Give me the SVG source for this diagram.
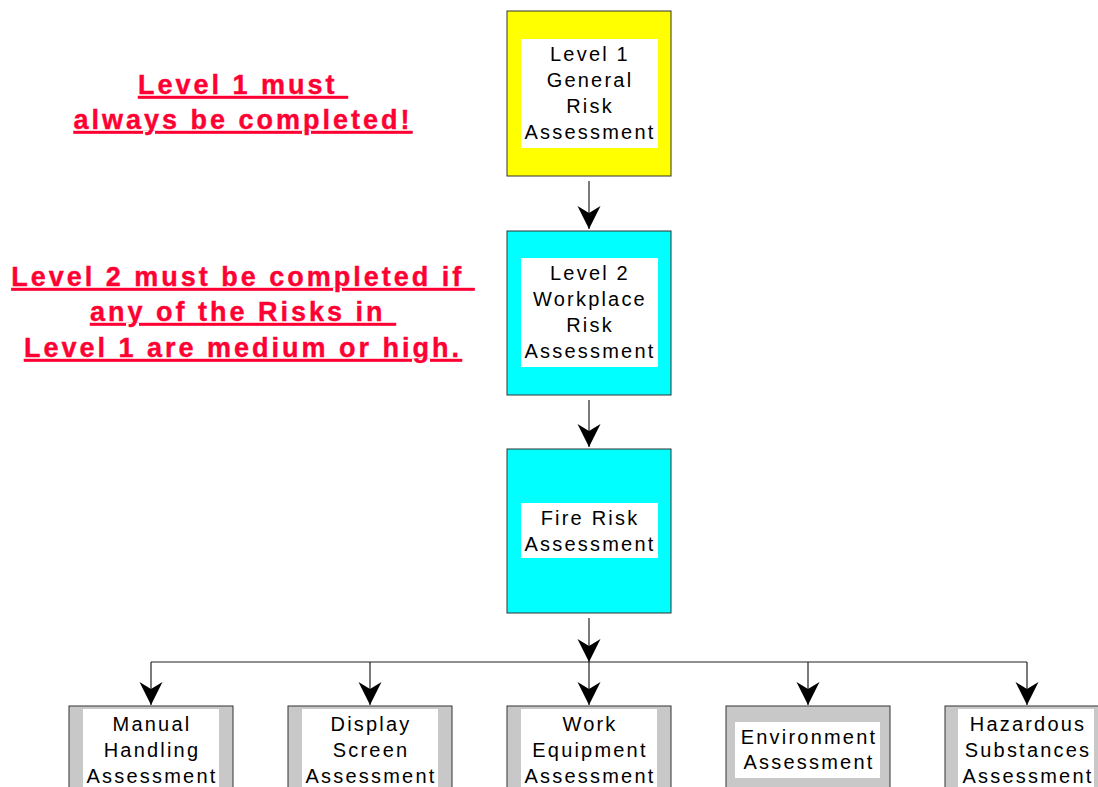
<svg xmlns="http://www.w3.org/2000/svg" width="1098" height="787" viewBox="0 0 1098 787">
<style>
.box{stroke:#333;stroke-width:1}
.yel{fill:#ffff00}
.cyan{fill:#00ffff}
.gray{fill:#c8c8c8}
.inner{fill:#ffffff;stroke:none}
.lbl{font-family:"Liberation Sans",Arial,sans-serif;font-size:20px;letter-spacing:2.2px;fill:#000;text-anchor:middle}
.note{font-family:"Liberation Sans",Arial,sans-serif;font-size:27px;font-weight:bold;letter-spacing:3px;fill:#ff0033;stroke:#ff0033;stroke-width:0.4px;text-anchor:middle;text-decoration:underline}
.conn{stroke:#222;stroke-width:1.2;fill:none}
</style>
<defs>
<marker id="ah" markerUnits="userSpaceOnUse" markerWidth="26" markerHeight="26" viewBox="-24 -13 26 26" refX="0" refY="0" orient="auto">
<path d="M0,0 L-23,-11.5 L-16,0 L-23,11.5 Z" fill="#000"/>
</marker>
</defs>
<rect width="1098" height="787" fill="#fff"/>

<g id="note1">
<text class="note" x="243" y="94" xml:space="preserve">Level 1 must </text>
<text class="note" x="243" y="129" xml:space="preserve">always be completed!</text>
</g>
<g id="note2">
<text class="note" x="243" y="286" xml:space="preserve">Level 2 must be completed if </text>
<text class="note" x="243" y="321" xml:space="preserve">any of the Risks in </text>
<text class="note" x="243" y="357" xml:space="preserve">Level 1 are medium or high.</text>
</g>

<g id="connectors">
<path class="conn" d="M589,181 V229" marker-end="url(#ah)"/>
<path class="conn" d="M589,400 V447" marker-end="url(#ah)"/>
<path class="conn" d="M589,618 V662" marker-end="url(#ah)"/>
<path class="conn" d="M151,662 H1027"/>
<path class="conn" d="M151,662 V705" marker-end="url(#ah)"/>
<path class="conn" d="M370,662 V705" marker-end="url(#ah)"/>
<path class="conn" d="M589,662 V705" marker-end="url(#ah)"/>
<path class="conn" d="M808,662 V705" marker-end="url(#ah)"/>
<path class="conn" d="M1027,662 V705" marker-end="url(#ah)"/>
</g>

<g id="level1">
<rect class="box yel" x="507" y="11" width="164" height="165"/>
<rect class="inner" x="521" y="39" width="137" height="109"/>
<text class="lbl" x="590" y="61">Level 1</text>
<text class="lbl" x="590" y="87">General</text>
<text class="lbl" x="590" y="113">Risk</text>
<text class="lbl" x="590" y="139">Assessment</text>
</g>

<g id="level2">
<rect class="box cyan" x="507" y="231" width="164" height="164"/>
<rect class="inner" x="521" y="258" width="137" height="109"/>
<text class="lbl" x="590" y="280">Level 2</text>
<text class="lbl" x="590" y="306">Workplace</text>
<text class="lbl" x="590" y="332">Risk</text>
<text class="lbl" x="590" y="358">Assessment</text>
</g>

<g id="fire">
<rect class="box cyan" x="507" y="449" width="164" height="164"/>
<rect class="inner" x="521" y="503" width="137" height="55"/>
<text class="lbl" x="590" y="525">Fire Risk</text>
<text class="lbl" x="590" y="551">Assessment</text>
</g>

<g id="manual">
<rect class="box gray" x="69" y="706" width="164" height="100"/>
<rect class="inner" x="83" y="709" width="136" height="90"/>
<text class="lbl" x="152" y="731">Manual</text>
<text class="lbl" x="152" y="757">Handling</text>
<text class="lbl" x="152" y="783">Assessment</text>
</g>

<g id="display">
<rect class="box gray" x="288" y="706" width="164" height="100"/>
<rect class="inner" x="302" y="709" width="136" height="90"/>
<text class="lbl" x="371" y="731">Display</text>
<text class="lbl" x="371" y="757">Screen</text>
<text class="lbl" x="371" y="783">Assessment</text>
</g>

<g id="work">
<rect class="box gray" x="507" y="706" width="164" height="100"/>
<rect class="inner" x="521" y="709" width="136" height="90"/>
<text class="lbl" x="590" y="731">Work</text>
<text class="lbl" x="590" y="757">Equipment</text>
<text class="lbl" x="590" y="783">Assessment</text>
</g>

<g id="environment">
<rect class="box gray" x="726" y="706" width="164" height="100"/>
<rect class="inner" x="735" y="722" width="145" height="56"/>
<text class="lbl" x="809" y="744">Environment</text>
<text class="lbl" x="809" y="769">Assessment</text>
</g>

<g id="hazardous">
<rect class="box gray" x="945" y="706" width="164" height="100"/>
<rect class="inner" x="958" y="709" width="136" height="90"/>
<text class="lbl" x="1028" y="731">Hazardous</text>
<text class="lbl" x="1028" y="757">Substances</text>
<text class="lbl" x="1028" y="783">Assessment</text>
</g>
</svg>
